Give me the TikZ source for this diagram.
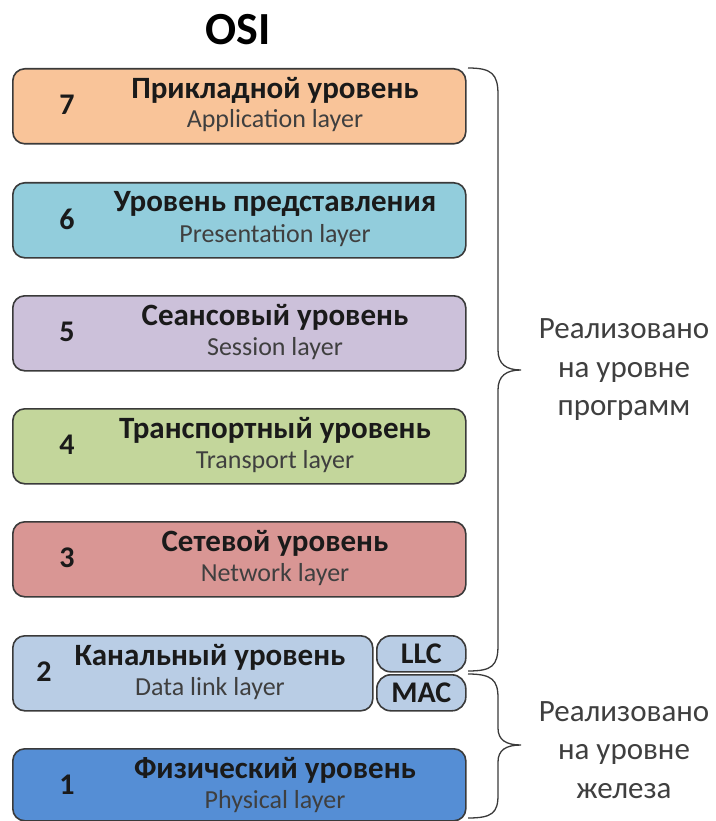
\documentclass[tikz,border=0pt]{standalone}
\usepackage{fontspec}
\setmainfont{Carlito}
\definecolor{c7}{HTML}{F9C499}
\definecolor{c6}{HTML}{92CDDC}
\definecolor{c5}{HTML}{CCC1DA}
\definecolor{c4}{HTML}{C3D69B}
\definecolor{c3}{HTML}{D99694}
\definecolor{c2}{HTML}{B9CDE5}
\definecolor{c1}{HTML}{558ED5}
\definecolor{edge}{HTML}{3A3A3A}
\definecolor{txt}{HTML}{1A1A1A}
\definecolor{sub}{HTML}{3F3F3F}
\begin{document}
\begin{tikzpicture}[x=1pt,y=-1pt,
  layerbox/.style={draw=edge, line width=1.6pt, rounded corners=12pt, anchor=north west, inner sep=0pt, minimum height=75pt},
  smallbox/.style={draw=edge, line width=1.6pt, rounded corners=14pt, fill=c2, anchor=north west, minimum width=89pt, minimum height=36pt, inner sep=0pt},
  ttl/.style={text=txt, font=\fontsize{31}{34}\selectfont\bfseries, inner sep=0pt},
  subt/.style={text=sub, font=\fontsize{26}{30}\selectfont, inner sep=0pt},
  num/.style={text=txt, font=\fontsize{30}{34}\selectfont\bfseries, inner sep=0pt},
  side/.style={text=sub, font=\fontsize{31}{38.5}\selectfont, align=center, inner sep=0pt},
  brc/.style={draw=edge, line width=1.3pt}
]
\useasboundingbox (0,0) rectangle (715,821);
\node[text=black, font=\fontsize{46}{50}\selectfont\bfseries, inner sep=0pt] (osi) at (238,30) {OSI};

% layer 7
\node[layerbox, fill=c7, minimum width=453pt] (b7) at (12,68) {};
\node[num] (n7) at (67,105) {7};
\node[ttl] (t7) at (275,90) {Прикладной уровень};
\node[subt] (s7) at (275,121) {Application layer};
% layer 6
\node[layerbox, fill=c6, minimum width=453pt] (b6) at (12,182) {};
\node[num] (n6) at (67,219) {6};
\node[ttl] (t6) at (275,204) {Уровень представления};
\node[subt] (s6) at (275,236) {Presentation layer};
% layer 5
\node[layerbox, fill=c5, minimum width=453pt] (b5) at (12,295) {};
\node[num] (n5) at (67,332) {5};
\node[ttl] (t5) at (275,317) {Сеансовый уровень};
\node[subt] (s5) at (275,349) {Session layer};
% layer 4
\node[layerbox, fill=c4, minimum width=453pt] (b4) at (12,408) {};
\node[num] (n4) at (67,445) {4};
\node[ttl] (t4) at (275,430) {Транспортный уровень};
\node[subt] (s4) at (275,462) {Transport layer};
% layer 3
\node[layerbox, fill=c3, minimum width=453pt] (b3) at (12,521) {};
\node[num] (n3) at (67,558) {3};
\node[ttl] (t3) at (275,543) {Сетевой уровень};
\node[subt] (s3) at (275,575) {Network layer};
% layer 2
\node[layerbox, fill=c2, minimum width=360pt] (b2) at (12,635) {};
\node[num] (n2) at (44,672) {2};
\node[ttl] (t2) at (210,657) {Канальный уровень};
\node[subt] (s2) at (210,689) {Data link layer};
\node[smallbox] (llc) at (376,635) {};
\node[smallbox] (mac) at (376,674) {};
\node[ttl, font=\fontsize{30}{34}\selectfont\bfseries] (llct) at (llc.center) {LLC};
\node[ttl, font=\fontsize{30}{34}\selectfont\bfseries] (mact) at (mac.center) {MAC};
% layer 1
\node[layerbox, fill=c1, minimum width=453pt, minimum height=72pt] (b1) at (12,748) {};
\node[num] (n1) at (67,785) {1};
\node[ttl] (t1) at (275,770) {Физический уровень};
\node[subt] (s1) at (275,802) {Physical layer};

% braces
\draw[brc] (468,68) .. controls (492,68) and (498,74) .. (498,95)
  -- (498,350) .. controls (498,364) and (506,370) .. (521,370)
  .. controls (506,370) and (498,376) .. (498,390)
  -- (498,645) .. controls (498,666) and (492,671) .. (468,671);
\draw[brc] (468,674) .. controls (492,674) and (498,680) .. (498,698)
  -- (498,728) .. controls (498,740) and (506,745) .. (521,745)
  .. controls (506,745) and (498,750) .. (498,762)
  -- (498,795) .. controls (498,813) and (492,818) .. (468,818);

\node[side] (r1) at (624,370) {Реализовано\\на уровне\\программ};
\node[side] (r2) at (624,750) {Реализовано\\на уровне\\железа};
\end{tikzpicture}
\end{document}
